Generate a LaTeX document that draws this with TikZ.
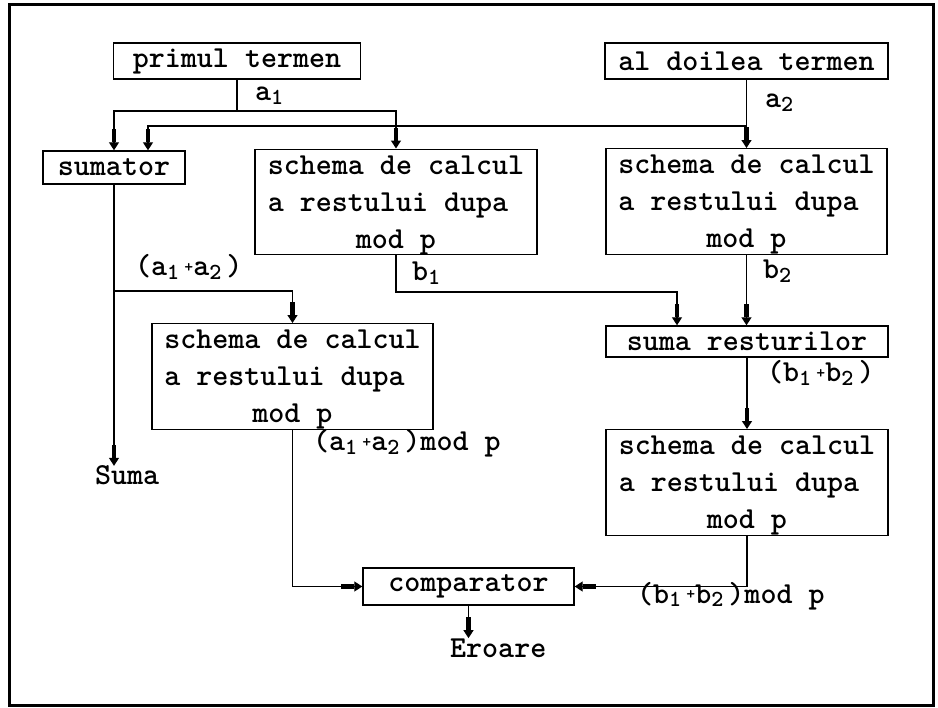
\documentclass[tikz,border=0pt]{standalone}
\usepackage{fontspec}
\usetikzlibrary{arrows.meta}
\newcommand\lowsub[1]{\raisebox{-0.3ex}{\fontsize{23}{23}\selectfont #1}}
\newcommand\smplus{\raisebox{0.3ex}{\fontsize{17}{17}\selectfont +}}
\newcommand\topstrut{\rule{0pt}{25pt}}
\begin{document}
\begin{tikzpicture}[x=1pt,y=-1pt,
  every node/.style={font=\ttfamily\bfseries\fontsize{30.5}{37}\selectfont},
  blk/.style={draw,line width=1.4pt,inner sep=0pt,align=center},
  lbl/.style={inner sep=0pt,anchor=base west},
  ln/.style={line width=1.3pt},
  arr/.style={line width=1.3pt,-{Rectangle[length=13pt,width=4.5pt,sep=0pt]Stealth[length=8pt,width=10pt,inset=0pt]}}]
\useasboundingbox (0,0) rectangle (938,708);
\draw[line width=3pt] (9,5) rectangle (933,705);
% boxes
\node[blk,minimum width=247pt,minimum height=36pt] (p1) at (237,61) {primul termen};
\node[blk,minimum width=283pt,minimum height=36pt] (p2) at (746.5,61) {al doilea termen};
\node[blk,minimum width=142pt,minimum height=33pt] (sum) at (114,167.5) {sumator};
\node[blk,minimum width=282pt,minimum height=102pt] (s1) at (396,202) {\topstrut schema de calcul\\a restului dupa\phantom{l}\\mod p};
\node[blk,minimum width=281pt,minimum height=103pt] (s2) at (746.5,201.5) {\topstrut schema de calcul\\a restului dupa\phantom{l}\\mod p};
\node[blk,minimum width=281pt,minimum height=103pt] (s3) at (292.5,376.5) {\topstrut schema de calcul\\a restului dupa\phantom{l}\\mod p};
\node[blk,minimum width=282pt,minimum height=31pt] (sr) at (747,341.5) {suma resturilor};
\node[blk,minimum width=282pt,minimum height=103pt] (s4) at (747,482.5) {\topstrut schema de calcul\\a restului dupa\phantom{l}\\mod p};
\node[blk,minimum width=211pt,minimum height=37pt] (comp) at (468.5,586.5) {comparator};
% outputs
\node[lbl] (suma) at (95,485) {Suma};
\node[lbl] (eroare) at (450,657) {Eroare};
% labels
\node[lbl] (la1) at (255,101) {a\lowsub{1}};
\node[lbl] (la2) at (765,108) {a\lowsub{2}};
\node[lbl] (lsa) at (135,276) {(a\lowsub{1}\,\smplus a\lowsub{2}\,)};
\node[lbl] (lb1) at (412,281) {b\lowsub{1}};
\node[lbl] (lb2) at (763,279) {b\lowsub{2}};
\node[lbl] (lsb) at (767,382) {(b\lowsub{1}\,\smplus b\lowsub{2}\,)};
\node[lbl] (lma) at (313,451) {(a\lowsub{1}\,\smplus a\lowsub{2}\,)mod p};
\node[lbl] (lmb) at (637,603) {(b\lowsub{1}\,\smplus b\lowsub{2}\,)mod p};
% junctions
\coordinate (j1) at (237,111);
\coordinate (j2) at (746.5,126);
\coordinate (j3) at (114,291);
\coordinate (j4) at (396,292);
% connectors
\draw[ln] (p1.south) -- (j1);
\draw[arr] (j1) -| (sum.north);
\draw[arr] (j1) -| (s1.north);
\draw[arr] (p2.south) -- (s2.north);
\draw[arr] (j2) -| ([xshift=34pt]sum.north);
\draw[arr] (sum.south) -- (sum.south |- suma.north);
\draw[arr] (j3) -| (s3.north);
\draw[arr] (s1.south) -- (j4) -| ([xshift=-70pt]sr.north);
\draw[arr] (s2.south) -- (s2.south |- sr.north);
\draw[arr] (sr.south) -- (s4.north);
\draw[arr] (s3.south) |- (comp.west);
\draw[arr] (s4.south) |- (comp.east);
\draw[arr] (comp.south) -- (comp.south |- eroare.north);
\end{tikzpicture}
\end{document}
